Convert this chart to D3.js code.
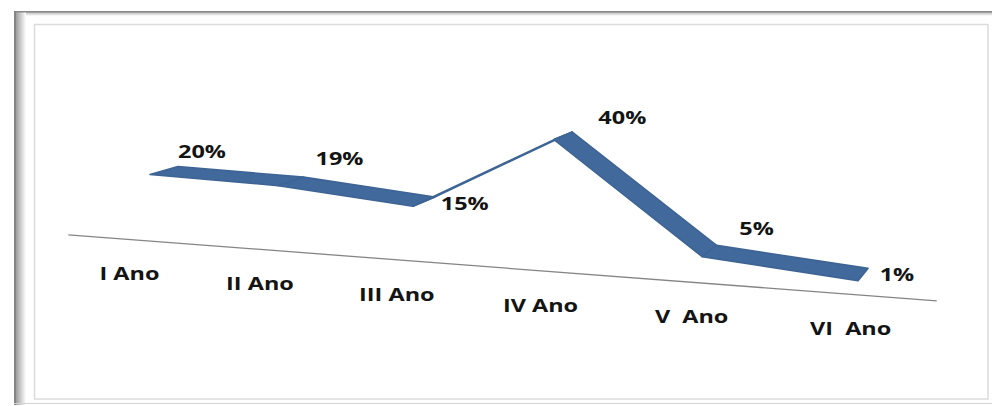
<!DOCTYPE html>
<html>
<head>
<meta charset="utf-8">
<script src="https://cdn.jsdelivr.net/npm/d3@7"></script>
<style>
  html, body { margin: 0; padding: 0; background: #ffffff; }
  svg { display: block; }
  text { font-family: "Open Sans", "Liberation Sans", sans-serif; font-weight: bold; fill: #141414; white-space: pre; }
</style>
</head>
<body>
<svg id="chart" width="992" height="406"></svg>
<script>
// ---- data ----
const categories = ["I Ano", "II Ano", "III Ano", "IV Ano", "V  Ano", "VI  Ano"];
const values = [20, 19, 15, 40, 5, 1];
const valueLabels = ["20%", "19%", "15%", "40%", "5%", "1%"];

// ---- layout (perspective of the 3-D line chart) ----
const W = 992, H = 406;
const svg = d3.select("#chart");

// category position along the floor (0..1), value height, ribbon depth (0 = front, 1 = back)
const tScale = d3.scalePoint().domain(categories).range([0, 1]);
const hScale = d3.scaleLinear().domain([0, 40]).range([0, -113.3]);

const P = { A: 610.2, Ad: 32.95, X0: 150, C: -0.114, E: 0.0278, B: 20.27, Bd: -3.4, Y0: 231.2 };
function project(t, h, d) {
  const w = 1 + P.C * t + P.E * d;
  return [(P.A * t + P.Ad * d + P.X0) / w, (P.B * t + h + P.Bd * d + P.Y0) / w];
}

// ---- frame ----
const defs = svg.append("defs");
const gl = defs.append("linearGradient").attr("id", "shadowL").attr("x1", 0).attr("x2", 1).attr("y1", 0).attr("y2", 0);
gl.append("stop").attr("offset", 0).attr("stop-color", "#8a8a8a");
gl.append("stop").attr("offset", 0.25).attr("stop-color", "#a8a8a8");
gl.append("stop").attr("offset", 1).attr("stop-color", "#ffffff");
const gt = defs.append("linearGradient").attr("id", "shadowT").attr("x1", 0).attr("x2", 0).attr("y1", 0).attr("y2", 1);
gt.append("stop").attr("offset", 0).attr("stop-color", "#8c8c8c");
gt.append("stop").attr("offset", 0.4).attr("stop-color", "#c8c8c8");
gt.append("stop").attr("offset", 1).attr("stop-color", "#ffffff");

svg.append("rect").attr("x", 0).attr("y", 0).attr("width", W).attr("height", H).attr("fill", "#ffffff");
svg.append("rect").attr("x", 14).attr("y", 11).attr("width", W - 14).attr("height", 5).attr("fill", "url(#shadowT)");
svg.append("rect").attr("x", 14).attr("y", 11).attr("width", 12).attr("height", 394).attr("fill", "url(#shadowL)");
svg.append("line").attr("x1", 14).attr("x2", W).attr("y1", 11.8).attr("y2", 11.8).attr("stroke", "#8a8a8a").attr("stroke-width", 1.6);
svg.append("line").attr("x1", 15).attr("x2", 15).attr("y1", 11).attr("y2", 405).attr("stroke", "#858585").attr("stroke-width", 2);
svg.append("line").attr("x1", 14).attr("x2", W).attr("y1", 403.5).attr("y2", 403.5).attr("stroke", "#d4d4d4").attr("stroke-width", 1.2);
svg.append("rect").attr("x", 34.5).attr("y", 24.5).attr("width", 953.5).attr("height", 374.5)
  .attr("fill", "none").attr("stroke", "#dcdcdc").attr("stroke-width", 1.5);

// ---- floor / category axis line ----
const a0 = project(-0.092, 0, -0.8), a1 = project(1.105, 0, -0.8);
svg.append("line").attr("x1", a0[0]).attr("y1", a0[1]).attr("x2", a1[0]).attr("y2", a1[1])
  .attr("stroke", "#858585").attr("stroke-width", 1.3);

// ---- category labels ----
const labelDepth = -0.7, labelDrop = 36, textScale = 1.38;
categories.forEach(c => {
  const p = project(tScale(c), 0, labelDepth);
  svg.append("text")
    .attr("transform", `translate(${p[0]},${p[1] + labelDrop}) scale(${textScale},1)`)
    .attr("text-anchor", "middle").attr("dy", "0.36em")
    .attr("font-size", 17).text(c);
});

// ---- 3-D ribbon ----
const pts = categories.map((c, i) => ({
  front: project(tScale(c), hScale(values[i]), 0),
  back: project(tScale(c), hScale(values[i]), 1)
}));
const quads = d3.pairs(pts).map(([p, q]) => [p.front, p.back, q.back, q.front]);
svg.append("g").selectAll("path").data(quads).join("path")
  .attr("d", q => d3.line()(q) + "Z")
  .attr("fill", "#41699b")
  .attr("stroke", "#3d6494")
  .attr("stroke-width", 1.6)
  .attr("stroke-linejoin", "round");

// ---- value labels (nudged from the back vertex, as placed in the original) ----
const labelNudge = [[24, -15], [36, -18], [30, 7], [50, -14], [40, -17], [29, 6]];
pts.forEach((p, i) => {
  svg.append("text")
    .attr("transform", `translate(${p.back[0] + labelNudge[i][0]},${p.back[1] + labelNudge[i][1]}) scale(${textScale},1)`)
    .attr("text-anchor", "middle").attr("dy", "0.36em")
    .attr("font-size", 17).text(valueLabels[i]);
});
</script>
</body>
</html>
